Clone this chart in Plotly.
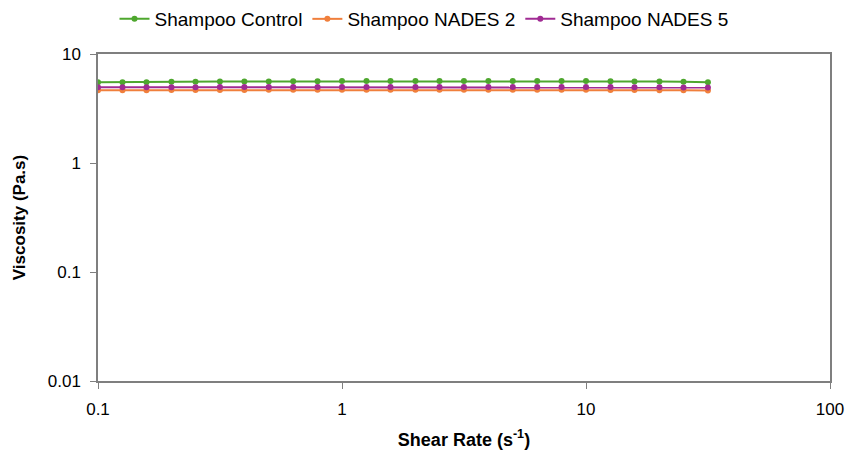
import plotly.graph_objects as go

shear_rate = [0.1, 0.126, 0.158, 0.2, 0.251, 0.316, 0.398, 0.501, 0.631, 0.794,
              1.0, 1.26, 1.58, 2.0, 2.51, 3.16, 3.98, 5.01, 6.31, 7.94,
              10.0, 12.6, 15.8, 20.0, 25.1, 31.6]

control = [5.50, 5.50, 5.52, 5.55, 5.56, 5.58, 5.60, 5.60, 5.62, 5.63,
           5.64, 5.65, 5.66, 5.66, 5.66, 5.66, 5.66, 5.66, 5.66, 5.65,
           5.64, 5.63, 5.60, 5.58, 5.55, 5.52]
nades2 = [4.65, 4.65, 4.66, 4.67, 4.67, 4.68, 4.68, 4.69, 4.69, 4.70,
          4.70, 4.70, 4.70, 4.70, 4.70, 4.70, 4.70, 4.70, 4.70, 4.69,
          4.69, 4.68, 4.67, 4.66, 4.64, 4.62]
nades5 = [4.95, 4.95, 4.95, 4.96, 4.96, 4.97, 4.97, 4.98, 4.98, 4.98,
          4.99, 4.99, 4.99, 4.99, 4.99, 4.99, 4.99, 4.99, 4.98, 4.98,
          4.98, 4.97, 4.96, 4.95, 4.94, 4.92]

series = [
    ("Shampoo Control", control, "#4EA72E"),
    ("Shampoo NADES 2", nades2, "#F07F3C"),
    ("Shampoo NADES 5", nades5, "#A02B93"),
]

fig = go.Figure()
for name, vals, col in series:
    fig.add_trace(go.Scatter(
        x=shear_rate, y=vals, name=name, mode="lines+markers",
        line=dict(color=col, width=2),
        marker=dict(color=col, size=6),
    ))

tick_font = dict(family="Liberation Sans, Arial, sans-serif", size=17, color="#000000")
fig.update_layout(
    width=848, height=450,
    margin=dict(l=98, r=18, t=54, b=69),
    paper_bgcolor="white", plot_bgcolor="white",
    font=dict(family="Liberation Sans, Arial, sans-serif", size=17, color="#000000"),
    legend=dict(orientation="h", x=0.5, xanchor="center", y=1.0, yanchor="top",
                yref="container", xref="container", font=dict(size=19),
                tracegroupgap=0, itemwidth=30),
    showlegend=True,
)
fig.update_xaxes(
    type="log", range=[-1, 2], automargin=False,
    tickvals=[0.1, 1, 10, 100], ticktext=["0.1", "1", "10", "100"],
    ticks="outside", ticklen=6, tickcolor="#7f7f7f", ticklabelstandoff=6,
    showline=True, linecolor="#7f7f7f", linewidth=1.5, mirror=True,
    showgrid=False, zeroline=False,
    tickfont=tick_font,
    title=dict(text="<b>Shear Rate (s<sup>-1</sup>)</b>", font=dict(size=18), standoff=16),
)
fig.update_yaxes(
    type="log", range=[-2, 1], automargin=False,
    tickvals=[0.01, 0.1, 1, 10], ticktext=["0.01", "0.1", "1", "10"],
    ticks="outside", ticklen=6, tickcolor="#7f7f7f", ticklabelstandoff=6,
    showline=True, linecolor="#7f7f7f", linewidth=1.5, mirror=True,
    showgrid=False, zeroline=False,
    tickfont=tick_font,
    title=dict(text="<b>Viscosity (Pa.s)</b>", font=dict(size=17), standoff=18),
)

fig.write_html("out.html")
